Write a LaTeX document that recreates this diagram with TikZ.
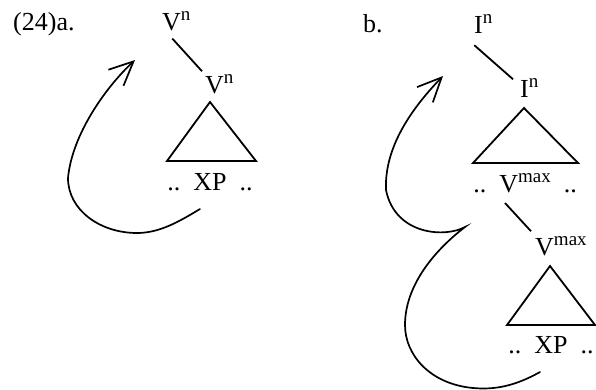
\documentclass[tikz,border=0pt]{standalone}
\usepackage{fontspec}
\setmainfont{Liberation Serif}
\usetikzlibrary{arrows.meta}
\newcommand\upr[1]{\raisebox{0.35em}{\fontsize{19}{21}\selectfont #1}}
\begin{document}
\begin{tikzpicture}[x=1pt,y=-1pt,font=\fontsize{26}{30}\selectfont,
  lbl/.style={inner sep=0pt,anchor=base west},
  mid/.style={inner sep=0pt,anchor=base},
  edge/.style={line width=1.8pt},
  tri/.style={line width=1.8pt,line join=miter},
  mv/.style={line width=1.7pt,line cap=round,-{Straight Barb[length=24pt,width=22pt]}}]
\useasboundingbox (0,0) rectangle (596,389);
% ---------- (24)a ----------
\node[lbl] (laba) at (13,30) {(24)a.};
\node[lbl] (va1) at (162,30) {V\upr{n}};
\node[lbl] (va2) at (205,93) {V\upr{n}};
\draw[edge] ([shift={(-4,8)}]va1.south) -- ([shift={(-3,-3.5)}]va2.north west);
\coordinate (ta1) at (210,102);
\coordinate (ta2) at (167,161);
\coordinate (ta3) at (256,161);
\draw[tri] (ta1) -- (ta2) -- (ta3) -- cycle;
\node[mid] (xpa) at (210,190) {..\hspace{0.5em}XP\hspace{0.5em}..};
\coordinate (ma0) at (200,209);
\coordinate (ma1) at (137,233);
\coordinate (ma2) at (68,178);
\coordinate (ma3) at (135,60);
\draw[mv] (ma0) .. controls (180,221) and (160,233) .. (ma1)
  .. controls (100,233) and (68,210) .. (ma2)
  .. controls (72,135) and (105,88) .. (ma3);
% ---------- b ----------
\node[lbl] (labb) at (363,32) {b.};
\node[lbl] (ib1) at (474,33) {I\upr{n}};
\node[lbl] (ib2) at (520,97) {I\upr{n}};
\draw[edge] ([shift={(-9,12)}]ib1.south) -- ([shift={(-7,0.5)}]ib2.north west);
\coordinate (tb1) at (524,108);
\coordinate (tb2) at (473,163);
\coordinate (tb3) at (578,163);
\draw[tri] (tb1) -- (tb2) -- (tb3) -- cycle;
\node[mid] (vm1) at (525,192) {..\hspace{0.5em}V\upr{max}\hspace{0.5em}..};
\node[lbl] (vm2) at (535,255) {V\upr{max}};
\draw[edge] ([shift={(-20,11)}]vm1.base) -- ([shift={(-4,-5.5)}]vm2.north west);
\coordinate (tc1) at (550,266);
\coordinate (tc2) at (507,325);
\coordinate (tc3) at (595,325);
\draw[tri] (tc1) -- (tc2) -- (tc3) -- cycle;
\node[mid] (xpb) at (551,353) {..\hspace{0.5em}XP\hspace{0.5em}..};
\coordinate (mb0) at (540,372);
\coordinate (mb1) at (473,388);
\coordinate (mb2) at (405,325);
\coordinate (mb3) at (465,227);
\coordinate (mb4) at (386,190);
\coordinate (mb5) at (443,76);
\draw[mv] (mb0) .. controls (515,386) and (495,390) .. (mb1)
  .. controls (430,384) and (405,355) .. (mb2)
  .. controls (405,285) and (435,250) .. (mb3)
  .. controls (445,238) and (395,235) .. (mb4)
  .. controls (384,145) and (415,105) .. (mb5);
\end{tikzpicture}
\end{document}
